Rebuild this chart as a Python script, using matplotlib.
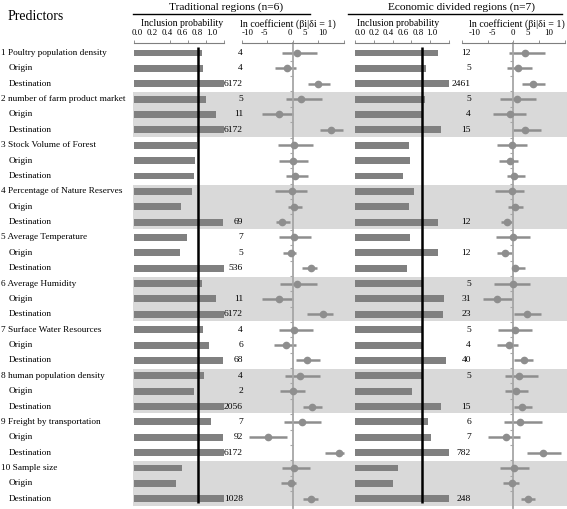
import matplotlib.pyplot as plt
import numpy as np
from matplotlib.lines import Line2D

plt.rcParams['font.family'] = ['Liberation Serif', 'DejaVu Serif']

# ------------------------------------------------------------------------------
# Data (one value per row, 10 predictors x [all, origin, destination])
predictors = ["Poultry population density", "number of farm product market",
              "Stock Volume of Forest", "Percentage of Nature Reserves",
              "Average Temperature", "Average Humidity", "Surface Water Resources",
              "human population density", "Freight by transportation", "Sample size"]
shaded_groups = [2, 4, 6, 8, 10]
threshold = 0.716

# Traditional regions (n=6)
trad_prob = [0.76, 0.77, 1.0, 0.80, 0.91, 1.0, 0.70, 0.68, 0.67, 0.64, 0.52, 0.99,
             0.59, 0.515, 1.0, 0.75, 0.91, 1.0, 0.77, 0.83, 0.99, 0.78, 0.67, 1.0,
             0.85, 0.99, 1.0, 0.53, 0.47, 1.0]
trad_bf = [4, 4, 6172, 5, 11, 6172, None, None, None, None, None, 69,
           7, 5, 536, None, 11, 6172, 4, 6, 68, 4, 2, 2056,
           7, 92, 6172, None, None, 1028]
trad_mean = [0.9, -1.1, 5.0, 1.6, -2.7, 7.6, 0.3, 0.0, 0.45, -0.1, 0.2, -2.0,
             0.2, -0.4, 3.5, 0.85, -2.6, 5.9, 0.25, -1.25, 2.75, 1.4, 0.0, 3.85,
             1.75, -4.8, 9.1, 0.25, -0.4, 3.6]
trad_low = [-2.0, -3.5, 3.0, -1.4, -6.0, 5.35, -2.8, -2.75, -1.4, -3.4, -0.9, -3.2,
            -2.7, -1.9, 1.9, -2.55, -6.1, 2.9, -2.75, -3.7, 0.65, -1.6, -2.5, 1.95,
            -1.75, -8.6, 6.3, -2.1, -2.2, 2.1]
trad_high = [4.7, 0.7, 7.25, 5.8, 0.0, 9.9, 4.0, 3.0, 3.0, 2.9, 1.9, -0.45,
             3.6, 0.7, 4.8, 4.7, 0.0, 7.9, 4.0, 0.7, 5.3, 5.3, 2.4, 5.75,
             5.6, -1.1, 10.1, 3.45, 0.7, 5.0]

# Economic divided regions (n=7)
econ_prob = [0.88, 0.75, 1.0, 0.745, 0.72, 0.91, 0.57, 0.58, 0.51, 0.63, 0.57, 0.88,
             0.59, 0.88, 0.55, 0.72, 0.95, 0.94, 0.72, 0.72, 0.965, 0.72, 0.61, 0.91,
             0.78, 0.81, 1.0, 0.46, 0.40, 1.0]
econ_bf = [12, 5, 2461, 5, 4, 15, None, None, None, None, None, 12,
           None, 12, None, 5, 31, 23, 5, 4, 40, 5, None, 15,
           6, 7, 782, None, None, 248]
econ_mean = [2.2, 0.85, 3.85, 0.65, -0.6, 2.3, -0.2, -0.7, 0.2, -0.3, 0.25, -1.15,
             -0.1, -1.6, 0.35, -0.05, -3.15, 2.7, 0.35, -0.75, 2.15, 1.15, 0.45, 1.75,
             1.25, -1.45, 5.75, 0.2, -0.3, 2.8]
econ_low = [-0.85, -1.15, 1.75, -2.55, -3.85, 0.0, -3.1, -2.8, -1.15, -3.5, -0.95, -2.3,
            -3.35, -3.2, -0.3, -3.75, -5.8, 0.15, -2.95, -3.15, 0.15, -1.6, -1.55, 0.05,
            -1.75, -4.85, 2.6, -2.5, -2.0, 1.5]
econ_high = [6.2, 3.55, 6.05, 4.45, 2.45, 5.35, 2.65, 0.9, 2.25, 2.05, 1.95, -0.2,
             3.15, -0.25, 2.25, 3.25, 0.0, 5.35, 3.55, 0.9, 3.75, 4.85, 2.8, 3.6,
             5.5, 1.25, 9.15, 3.1, 1.05, 4.15]

prob_labels = ["0.0", "0.2", "0.4", "0.6", "0.8", "1.0"]
coef_labels = ["-10", "-5", "0", "5", "10"]
# where the tick labels sit in the picture (they do not line up with the tick marks)
trad_prob_lab_pos = [0.033, 0.2, 0.367, 0.533, 0.7, 0.867]
econ_prob_lab_pos = [0.053, 0.202, 0.351, 0.511, 0.670, 0.819]
trad_coef_lab_pos = [-8.8, -5.6, -0.5, 2.4, 5.8]
econ_coef_lab_pos = [-7.4, -4.1, -0.1, 2.8, 6.9]

# ------------------------------------------------------------------------------
W, H = 567, 509
fig = plt.figure(figsize=(W / 100, H / 100), dpi=100)
rows = np.arange(1, 31)
ylim = (30.6, 0.35)
bar_color = '#808080'
err_color = '#8e8e8e'


def px_axes(x0, x1, y0=43, y1=508):
    ax = fig.add_axes([x0 / W, 1 - y1 / H, (x1 - x0) / W, (y1 - y0) / H])
    ax.set_ylim(ylim)
    ax.patch.set_visible(False)
    return ax


# Shaded groups behind everything
bg = px_axes(133, 567)
bg.set_xlim(0, 1)
bg.axis('off')
for g in shaded_groups:
    bg.axhspan(3 * g - 2 - 0.44, 3 * g + 0.44, color='#d9d9d9', lw=0)

# Row labels
lab = px_axes(0, 133)
lab.set_xlim(0, 133)
lab.axis('off')
for i, p in enumerate(predictors):
    lab.text(1, 3 * i + 1, "%d %s" % (i + 1, p), va='center', fontsize=6.7)
    lab.text(9, 3 * i + 2, "Origin", va='center', fontsize=6.7)
    lab.text(9, 3 * i + 3, "Destination", va='center', fontsize=6.7)


def prob_panel(x0, x1, probs, bfs, lab_pos, bf_x):
    ax = px_axes(x0, x1)
    ax.set_xlim(0, 1)
    ax.barh(rows, probs, height=0.45, color=bar_color, zorder=2)
    ax.vlines(threshold, 0.6, 30.3, color='black', lw=1.8, zorder=3)
    for r, b in zip(rows, bfs):
        if b is not None:
            ax.text(bf_x, r, str(b), ha='right', va='center', fontsize=6.8, clip_on=False)
    for s in ['left', 'right', 'bottom']:
        ax.spines[s].set_visible(False)
    ax.spines['top'].set_color('#7f7f7f')
    ax.spines['top'].set_linewidth(0.8)
    ax.xaxis.tick_top()
    ax.set_xticks(lab_pos)
    ax.set_xticklabels(prob_labels, fontsize=6.4)
    ax.set_xticks(np.linspace(0, 1, 6), minor=True)
    ax.tick_params(axis='x', which='major', length=0, pad=4)
    ax.tick_params(axis='x', which='minor', length=2.5, color='#7f7f7f')
    ax.set_yticks([])
    return ax


def coef_panel(x0, x1, mean, low, high, lab_pos):
    ax = px_axes(x0, x1)
    ax.set_xlim(-10, 10)
    ax.hlines(rows, low, high, color=err_color, lw=1.8, zorder=2, clip_on=False)
    ax.plot(mean, rows, 'o', color=err_color, ms=4.5, zorder=3, clip_on=False)
    ax.spines['left'].set_position(('data', 0))
    ax.spines['left'].set_color('#a6a6a6')
    ax.spines['left'].set_linewidth(1.3)
    ax.spines['top'].set_color('#7f7f7f')
    ax.spines['top'].set_linewidth(0.8)
    for s in ['right', 'bottom']:
        ax.spines[s].set_visible(False)
    ax.xaxis.tick_top()
    ax.set_xticks(lab_pos)
    ax.set_xticklabels(coef_labels, fontsize=6.4)
    ax.set_xticks(np.arange(-10, 11, 5), minor=True)
    ax.tick_params(axis='x', which='major', length=0, pad=4)
    ax.tick_params(axis='x', which='minor', length=2.5, color='#7f7f7f')
    ax.set_yticks(np.arange(1.5, 30, 1))
    ax.set_yticklabels([])
    ax.tick_params(axis='y', length=2, color='#a6a6a6')
    return ax


prob_panel(134, 224, trad_prob, trad_bf, trad_prob_lab_pos, 1.211)
coef_panel(241.7, 343.7, trad_mean, trad_low, trad_high, trad_coef_lab_pos)
prob_panel(355, 449, econ_prob, econ_bf, econ_prob_lab_pos, 1.234)
coef_panel(461.7, 565, econ_mean, econ_low, econ_high, econ_coef_lab_pos)

# Headers
def ftext(x, y, s, **kw):
    fig.text(x / W, 1 - y / H, s, ha='center', va='center', **kw)


ftext(36, 16, "Predictors", fontsize=10)
ftext(226, 7, "Traditional regions (n=6)", fontsize=8.2)
ftext(462, 7, "Economic divided regions (n=7)", fontsize=8.2)
fig.add_artist(Line2D([133 / W, 310 / W], [1 - 13.5 / H] * 2, color='black', lw=1))
fig.add_artist(Line2D([348 / W, 562 / W], [1 - 13.5 / H] * 2, color='black', lw=1))
ftext(182, 24, "Inclusion probability", fontsize=7)
ftext(398, 24, "Inclusion probability", fontsize=7)
ftext(288, 24, "ln coefficient (βi|δi = 1)", fontsize=7.2)
ftext(517, 24, "ln coefficient (βi|δi = 1)", fontsize=7.2)

plt.savefig("out.png", dpi=100)
